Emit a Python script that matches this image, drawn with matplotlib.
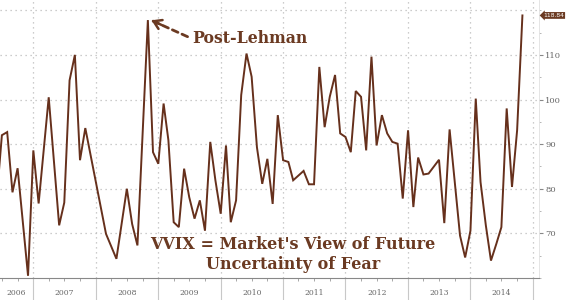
import numpy as np
import pandas as pd
import matplotlib
matplotlib.use("Agg")
import matplotlib.pyplot as plt
import matplotlib.dates as mdates

# VVIX month-start readings (vertices of the line)
dates = ['2006-06', '2006-07', '2006-08', '2006-09', '2006-10', '2006-12',
         '2007-01', '2007-02', '2007-04', '2007-06', '2007-07', '2007-08',
         '2007-09', '2007-10', '2007-11', '2008-03', '2008-05', '2008-07',
         '2008-08', '2008-09', '2008-11', '2008-12', '2009-01', '2009-02',
         '2009-03', '2009-04', '2009-05', '2009-06', '2009-07', '2009-08',
         '2009-09', '2009-10', '2009-11', '2009-12', '2010-01', '2010-02',
         '2010-03', '2010-04', '2010-05', '2010-06', '2010-07', '2010-08',
         '2010-09', '2010-10', '2010-11', '2010-12', '2011-01', '2011-02',
         '2011-03', '2011-05', '2011-06', '2011-07', '2011-08', '2011-09',
         '2011-10', '2011-11', '2011-12', '2012-01', '2012-02', '2012-03',
         '2012-04', '2012-05', '2012-06', '2012-07', '2012-08', '2012-09',
         '2012-10', '2012-11', '2012-12', '2013-01', '2013-02', '2013-03',
         '2013-04', '2013-05', '2013-07', '2013-08', '2013-09', '2013-11',
         '2013-12', '2014-01', '2014-02', '2014-03', '2014-04', '2014-05',
         '2014-06', '2014-07', '2014-08', '2014-09', '2014-10', '2014-11']
vvix = [78.0, 92.0, 92.7, 79.2, 84.6, 60.5,
        88.6, 76.7, 100.5, 71.8, 76.9, 104.3,
        110.0, 86.4, 93.6, 69.9, 64.3, 80.0,
        72.1, 67.3, 117.8, 88.2, 85.6, 99.1,
        90.9, 72.5, 71.4, 84.5, 78.1, 73.3,
        77.4, 70.6, 90.5, 81.9, 74.4, 89.7,
        72.5, 77.4, 101.0, 110.3, 105.1, 89.3,
        81.1, 86.7, 76.6, 96.5, 86.4, 86.0,
        81.9, 84.0, 81.0, 81.0, 107.3, 93.8,
        100.6, 105.5, 92.4, 91.6, 88.2, 101.9,
        100.6, 88.6, 109.6, 89.7, 96.5, 92.4,
        90.5, 90.1, 77.8, 93.1, 75.9, 87.0,
        83.2, 83.4, 86.5, 72.3, 93.3, 69.5,
        64.6, 70.6, 100.2, 81.5, 71.8, 63.9,
        67.6, 71.4, 98.0, 80.4, 93.1, 118.84]
years = [2006, 2007, 2008, 2009, 2010, 2011, 2012, 2013, 2014]
yticks = [70, 80, 90, 100, 110]
last_label = '118.84'

x = pd.to_datetime(dates)
line_col = '#66301c'
text_col = '#6b3a22'
grid_col = '#bcbcbc'

fig = plt.figure(figsize=(5.67, 3.0), dpi=100)
ax = fig.add_axes([0.0, 22 / 300, 539 / 567, 278 / 300])

ax.plot(x, vvix, color=line_col, lw=1.4, solid_joinstyle='miter')

x0 = pd.Timestamp('2006-06-20')
x1 = pd.Timestamp('2015-02-06')
ax.set_xlim(x0, x1)
ax.set_ylim(60, 122.3)

# grid
for v in yticks + [120]:
    ax.axhline(v, color=grid_col, ls=(0, (1, 3)), lw=0.9, zorder=0)
bounds = [pd.Timestamp(f'{y}-01-01') for y in years[1:] + [2015]]
for b in bounds:
    ax.axvline(b, color=grid_col, ls=(0, (1, 3)), lw=0.9, zorder=0)

# x axis: year separators extend below, labels centred in visible span
ax.set_xticks(bounds)
ax.set_xticklabels([])
ax.tick_params(axis='x', which='major', direction='out', length=16,
               color='#c8c8c8', width=0.8)
ax.xaxis.set_minor_locator(mdates.MonthLocator(bymonth=[4, 7, 10]))
ax.tick_params(axis='x', which='minor', direction='out', length=2,
               color='#999999', width=0.6)
for y in years:
    a = max(pd.Timestamp(f'{y}-01-01'), x0)
    b = min(pd.Timestamp(f'{y + 1}-01-01'), x1)
    mid = a + (b - a) / 2
    ax.text(mid, -0.055, str(y), transform=ax.get_xaxis_transform(),
            ha='center', va='center', fontsize=5.5, color='#666666',
            family='DejaVu Serif')

# right axis
ax.yaxis.tick_right()
ax.set_yticks(yticks)
ax.set_yticklabels([str(v) for v in yticks], fontsize=6, color='#666666',
                   family='DejaVu Serif')
ax.yaxis.set_minor_locator(matplotlib.ticker.MultipleLocator(5))
ax.tick_params(axis='y', which='major', direction='out', length=3, pad=1.5,
               color='#888888', width=0.8)
ax.tick_params(axis='y', which='minor', direction='out', length=1.5,
               color='#aaaaaa', width=0.6)

for s in ['top', 'left']:
    ax.spines[s].set_visible(False)
ax.spines['bottom'].set_color('#888888')
ax.spines['bottom'].set_linewidth(0.8)
ax.spines['right'].set_color('#e0e0e0')
ax.spines['right'].set_linewidth(0.6)

# last value tag
ax.text(1.008, vvix[-1], last_label, transform=ax.get_yaxis_transform(),
        ha='left', va='center', fontsize=4.3, color='white',
        family='DejaVu Sans',
        bbox=dict(boxstyle='larrow,pad=0.15', fc='#6b3a22', ec='none'))

# annotations
ax.text(0.356, 0.863, 'Post-Lehman', transform=ax.transAxes, ha='left',
        va='center', fontsize=11.3, fontweight='bold', color=text_col,
        family='DejaVu Serif')
ax.annotate('', xy=(0.283, 0.925), xytext=(0.348, 0.868),
            xycoords='axes fraction', textcoords='axes fraction',
            arrowprops=dict(arrowstyle='-', color=text_col, lw=2,
                            ls=(0, (2.2, 1.6)), shrinkA=0, shrinkB=0))
ax.annotate('', xy=(0.281, 0.927), xytext=(0.300, 0.910),
            xycoords='axes fraction', textcoords='axes fraction',
            arrowprops=dict(arrowstyle='->,head_length=0.55,head_width=0.35',
                            color=text_col, lw=1.8, shrinkA=0, shrinkB=0))
ax.text(0.543, 0.122, "VVIX = Market's View of Future", transform=ax.transAxes,
        ha='center', va='center', fontsize=11.5, fontweight='bold',
        color=text_col, family='DejaVu Serif')
ax.text(0.543, 0.047, 'Uncertainty of Fear', transform=ax.transAxes,
        ha='center', va='center', fontsize=11.5, fontweight='bold',
        color=text_col, family='DejaVu Serif')

fig.savefig('out.png', dpi=100, facecolor='white')
